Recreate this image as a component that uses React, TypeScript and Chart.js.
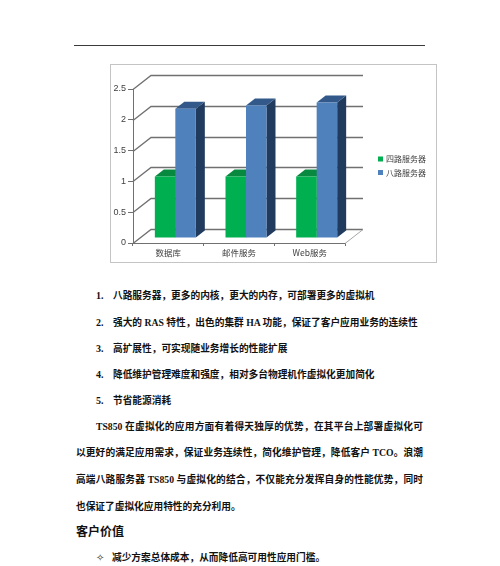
import { useEffect, useRef } from "react";
import { Chart, registerables } from "chart.js";

Chart.register(...registerables);

// chart data
const categories = ["数据库", "邮件服务", "Web服务"];
const seriesNames = ["四路服务器", "八路服务器"];
const fourWayValues = [1, 1, 1];
const eightWayValues = [2.1, 2.15, 2.2];
const yTickLabels = ["0", "0.5", "1", "1.5", "2", "2.5"];

// page text
const listItems = [
  "八路服务器，更多的内核，更大的内存，可部署更多的虚拟机",
  "强大的 RAS 特性，出色的集群 HA 功能，保证了客户应用业务的连续性",
  "高扩展性，可实现随业务增长的性能扩展",
  "降低维护管理难度和强度，相对多台物理机作虚拟化更加简化",
  "节省能源消耗",
];
const paragraphLines = [
  "TS850 在虚拟化的应用方面有着得天独厚的优势，在其平台上部署虚拟化可",
  "以更好的满足应用需求，保证业务连续性，简化维护管理，降低客户 TCO。浪潮",
  "高端八路服务器 TS850 与虚拟化的结合，不仅能充分发挥自身的性能优势，同时",
  "也保证了虚拟化应用特性的充分利用。",
];

const FONT = "'Liberation Serif', 'Noto Sans CJK SC', serif";
const CJK = "'Noto Sans CJK SC', 'Liberation Sans', sans-serif";

// 3D geometry (px)
const WALL_DX = 18;
const WALL_DY = -14;
const BAR_OX = 7;
const BAR_OY = -5;
const BAR_DX = 9;
const BAR_DY = -7;

const TOP_COLORS = ["#07893f", "#33598a"];
const SIDE_COLORS = ["#006a2e", "#213b5e"];

const threeD = {
  id: "threeD",
  beforeDatasetsDraw(chart: any) {
    const { ctx, chartArea } = chart;
    const { left, right } = chartArea;
    const y = chart.scales.y;
    ctx.save();
    // back wall grid + floor
    ctx.strokeStyle = "#707070";
    ctx.lineWidth = 1.3;
    yTickLabels.forEach((t) => {
      const py = Math.round(y.getPixelForValue(parseFloat(t))) + 0.5;
      ctx.beginPath();
      ctx.moveTo(left, py);
      ctx.lineTo(left + WALL_DX, py + WALL_DY);
      ctx.lineTo(right + WALL_DX, py + WALL_DY);
      ctx.stroke();
    });
    const pb = Math.round(y.getPixelForValue(0)) + 0.5;
    ctx.strokeStyle = "#a6a6a6";
    ctx.lineWidth = 1;
    ctx.beginPath();
    ctx.moveTo(right, pb);
    ctx.lineTo(right + WALL_DX, pb + WALL_DY);
    ctx.stroke();

    // bar tops and sides
    ctx.translate(BAR_OX, BAR_OY);
    chart.data.datasets.forEach((_ds: any, di: number) => {
      const meta = chart.getDatasetMeta(di);
      meta.data.forEach((bar: any) => {
        const l = bar.x - bar.width / 2;
        const r = bar.x + bar.width / 2;
        const t = bar.y;
        const b = bar.base;
        ctx.fillStyle = SIDE_COLORS[di];
        ctx.beginPath();
        ctx.moveTo(r, t);
        ctx.lineTo(r + BAR_DX, t + BAR_DY);
        ctx.lineTo(r + BAR_DX, b + BAR_DY);
        ctx.lineTo(r, b);
        ctx.closePath();
        ctx.fill();
        ctx.fillStyle = TOP_COLORS[di];
        ctx.beginPath();
        ctx.moveTo(l, t);
        ctx.lineTo(r, t);
        ctx.lineTo(r + BAR_DX, t + BAR_DY);
        ctx.lineTo(l + BAR_DX, t + BAR_DY);
        ctx.closePath();
        ctx.fill();
      });
    });
    // front faces drawn by Chart.js with the same offset
  },
  afterDatasetsDraw(chart: any) {
    chart.ctx.restore();
  },
  afterDraw(chart: any) {
    const { ctx, chartArea } = chart;
    ctx.save();
    ctx.font = `8px ${CJK}`;
    ctx.textBaseline = "middle";
    chart.data.datasets.forEach((ds: any, i: number) => {
      const lx = chartArea.right + 33;
      const ly = 94 + i * 13.5;
      ctx.fillStyle = ds.backgroundColor;
      ctx.fillRect(lx, ly - 2.5, 5, 5);
      ctx.fillStyle = "#404040";
      ctx.fillText(ds.label, lx + 8, ly);
    });
    ctx.restore();
  },
};

function ServerChart() {
  const chartRef = useRef<HTMLCanvasElement>(null);
  const chartInstance = useRef<Chart | null>(null);

  useEffect(() => {
    if (!chartRef.current) return;
    if (chartInstance.current) chartInstance.current.destroy();

    chartInstance.current = new Chart(chartRef.current, {
      type: "bar",
      data: {
        labels: categories,
        datasets: [
          {
            label: seriesNames[0],
            data: fourWayValues,
            backgroundColor: "#00b050",
            categoryPercentage: 0.58,
            barPercentage: 1,
          },
          {
            label: seriesNames[1],
            data: eightWayValues,
            backgroundColor: "#4f81bd",
            categoryPercentage: 0.58,
            barPercentage: 1,
          },
        ],
      },
      options: {
        responsive: false,
        animation: false,
        layout: { padding: { left: 0, top: 24, right: 91, bottom: 0 } },
        plugins: {
          legend: { display: false },
          tooltip: { enabled: false },
        },
        scales: {
          y: {
            min: 0,
            max: 2.5,
            afterFit: (s: any) => {
              s.width = 22;
            },
            ticks: {
              stepSize: 0.5,
              padding: 2,
              color: "#404040",
              font: { family: "'Liberation Sans', sans-serif", size: 9 },
              callback: (_v: any, i: number) => yTickLabels[i],
            },
            grid: { drawOnChartArea: false, tickLength: 5, color: "#707070" },
            border: { color: "#707070" },
          },
          x: {
            afterFit: (s: any) => {
              s.height = 19;
            },
            ticks: {
              padding: 2,
              color: "#404040",
              font: { family: CJK, size: 8.5 },
            },
            grid: { offset: true, drawOnChartArea: false, tickLength: 3, color: "#707070" },
            border: { color: "#707070" },
          },
        },
      },
      plugins: [threeD],
    } as any);

    return () => {
      if (chartInstance.current) {
        chartInstance.current.destroy();
        chartInstance.current = null;
      }
    };
  }, []);

  return (
    <div
      style={{
        position: "absolute",
        left: 110,
        top: 64,
        width: 325,
        height: 197,
        border: "1px solid #c4c4c4",
        background: "#fff",
      }}
    >
      <canvas ref={chartRef} width={325} height={197}></canvas>
    </div>
  );
}

function TextLine(props: {
  top: number;
  left: number;
  width?: number;
  size?: number;
  bold?: boolean;
  justify?: boolean;
  children: any;
}) {
  const { top, left, width, size = 9.7, bold, justify, children } = props;
  return (
    <div
      style={{
        position: "absolute",
        top: top - 8,
        left,
        width,
        height: 16,
        lineHeight: "16px",
        fontSize: size,
        fontWeight: bold ? 700 : 400,
        fontFamily: FONT,
        color: "#111",
        textAlign: justify ? "justify" : "left",
        textAlignLast: justify ? "justify" : "auto",
        whiteSpace: justify ? "normal" : "nowrap",
      }}
    >
      {children}
    </div>
  );
}

export default function App() {
  const itemTops = [296, 322.5, 349, 375, 401];
  const paraTops = [426.5, 453.3, 480, 507];
  return (
    <div
      style={{
        position: "absolute",
        left: 0,
        top: 0,
        width: 500,
        height: 566,
        background: "#fff",
        overflow: "hidden",
      }}
    >
      <div
        style={{
          position: "absolute",
          left: 74,
          top: 45,
          width: 351,
          borderTop: "1px solid #3a3a3a",
        }}
      />
      <ServerChart />
      {listItems.map((t, i) => (
        <div key={i}>
          <TextLine top={itemTops[i]} left={96} size={10} bold>
            {`${i + 1}.`}
          </TextLine>
          <TextLine top={itemTops[i]} left={113} bold>
            {t}
          </TextLine>
        </div>
      ))}
      <TextLine top={paraTops[0]} left={96} width={327} bold justify>
        {paragraphLines[0]}
      </TextLine>
      <TextLine top={paraTops[1]} left={76} width={347} bold justify>
        {paragraphLines[1]}
      </TextLine>
      <TextLine top={paraTops[2]} left={76} width={347} bold justify>
        {paragraphLines[2]}
      </TextLine>
      <TextLine top={paraTops[3]} left={76} bold>
        {paragraphLines[3]}
      </TextLine>
      <TextLine top={531.5} left={76} size={12} bold>
        客户价值
      </TextLine>
      <div
        style={{
          position: "absolute",
          top: 557.5 - 8,
          left: 96,
          height: 16,
          lineHeight: "16px",
          fontSize: 10,
          fontFamily: "'DejaVu Sans', sans-serif",
          color: "#333",
        }}
      >
        ✧
      </div>
      <TextLine top={557.5} left={112} bold>
        减少方案总体成本，从而降低高可用性应用门槛。
      </TextLine>
    </div>
  );
}
